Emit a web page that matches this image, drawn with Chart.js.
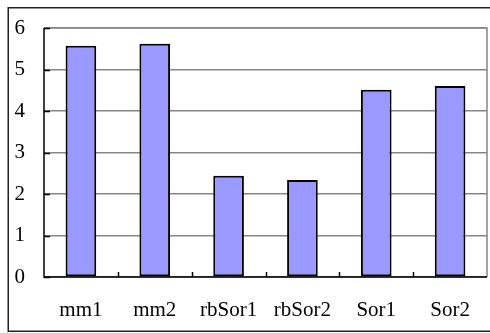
<!DOCTYPE html>
<html>
<head>
<meta charset="utf-8">
<script src="https://cdn.jsdelivr.net/npm/chart.js@4/dist/chart.umd.min.js"></script>
<style>
  html, body { margin: 0; padding: 0; background: #ffffff; }
  #wrap { width: 490px; height: 333px; position: relative; }
</style>
</head>
<body>
<div id="wrap"><canvas id="c" width="490" height="333"></canvas></div>
<script>
// Categories and measured values
const categories = ['mm1', 'mm2', 'rbSor1', 'rbSor2', 'Sor1', 'Sor2'];
const values = [5.57, 5.62, 2.44, 2.34, 4.51, 4.60];
const yTicks = [0, 1, 2, 3, 4, 5, 6];

// Frame, plot border, and short inward tick marks
const framePlugin = {
  id: 'frame',
  beforeDraw(chart) {
    const ctx = chart.ctx;
    ctx.save();
    ctx.fillStyle = '#ffffff';
    ctx.fillRect(0, 0, chart.width, chart.height);
    ctx.restore();
  },
  afterDraw(chart) {
    const ctx = chart.ctx;
    const a = chart.chartArea;
    const x = chart.scales.x, y = chart.scales.y;
    ctx.save();
    // gray plot border (top and right)
    ctx.strokeStyle = '#868686';
    ctx.lineWidth = 1.5;
    ctx.beginPath();
    ctx.moveTo(a.left, a.top);
    ctx.lineTo(a.right, a.top);
    ctx.lineTo(a.right, a.bottom);
    ctx.stroke();
    // black axes
    ctx.strokeStyle = '#000000';
    ctx.lineWidth = 1.5;
    ctx.beginPath();
    ctx.moveTo(a.left, a.top);
    ctx.lineTo(a.left, a.bottom);
    ctx.lineTo(a.right, a.bottom);
    ctx.stroke();
    // y ticks pointing into the plot
    ctx.beginPath();
    yTicks.forEach(v => {
      const py = Math.round(y.getPixelForValue(v)) + 0.5;
      ctx.moveTo(a.left, py);
      ctx.lineTo(a.left + 6, py);
    });
    ctx.stroke();
    // x ticks between categories, pointing up
    ctx.beginPath();
    for (let i = 0; i < categories.length - 1; i++) {
      const px = Math.round((x.getPixelForValue(i) + x.getPixelForValue(i + 1)) / 2) + 0.5;
      ctx.moveTo(px, a.bottom);
      ctx.lineTo(px, a.bottom - 5);
    }
    ctx.stroke();
    // outer frame
    ctx.strokeStyle = '#222222';
    ctx.lineWidth = 1.5;
    ctx.strokeRect(8.25, 7.75, 490, 323.5);
    ctx.restore();
  }
};

new Chart(document.getElementById('c'), {
  type: 'bar',
  data: {
    labels: categories,
    datasets: [{
      data: values,
      backgroundColor: '#9999ff',
      borderColor: '#000000',
      borderWidth: 2,
      borderSkipped: false,
      categoryPercentage: 1,
      barPercentage: 0.415
    }]
  },
  options: {
    responsive: false,
    animation: false,
    devicePixelRatio: 1,
    layout: { padding: { left: 0, top: 28, right: 3, bottom: 0 } },
    plugins: { legend: { display: false }, tooltip: { enabled: false } },
    scales: {
      x: {
        afterFit(s) {
          s.height = 56;
          s.paddingLeft = 0; s.paddingRight = 0;
          s.paddingTop = 0; s.paddingBottom = 0;
        },
        grid: { display: false, drawTicks: false },
        border: { display: false },
        ticks: {
          color: '#000000',
          padding: 21,
          maxRotation: 0,
          font: { family: 'Liberation Serif', size: 21 }
        }
      },
      y: {
        min: 0,
        max: 6,
        afterFit(s) {
          s.width = 44;
          s.paddingTop = 0; s.paddingBottom = 0;
          s.paddingLeft = 0; s.paddingRight = 0;
        },
        afterBuildTicks(s) { s.ticks = yTicks.map(v => ({ value: v })); },
        grid: { color: '#868686', lineWidth: 1.5, drawTicks: false },
        border: { display: false },
        ticks: {
          color: '#000000',
          padding: 19,
          font: { family: 'Liberation Serif', size: 21 }
        }
      }
    }
  },
  plugins: [framePlugin]
});
</script>
</body>
</html>
